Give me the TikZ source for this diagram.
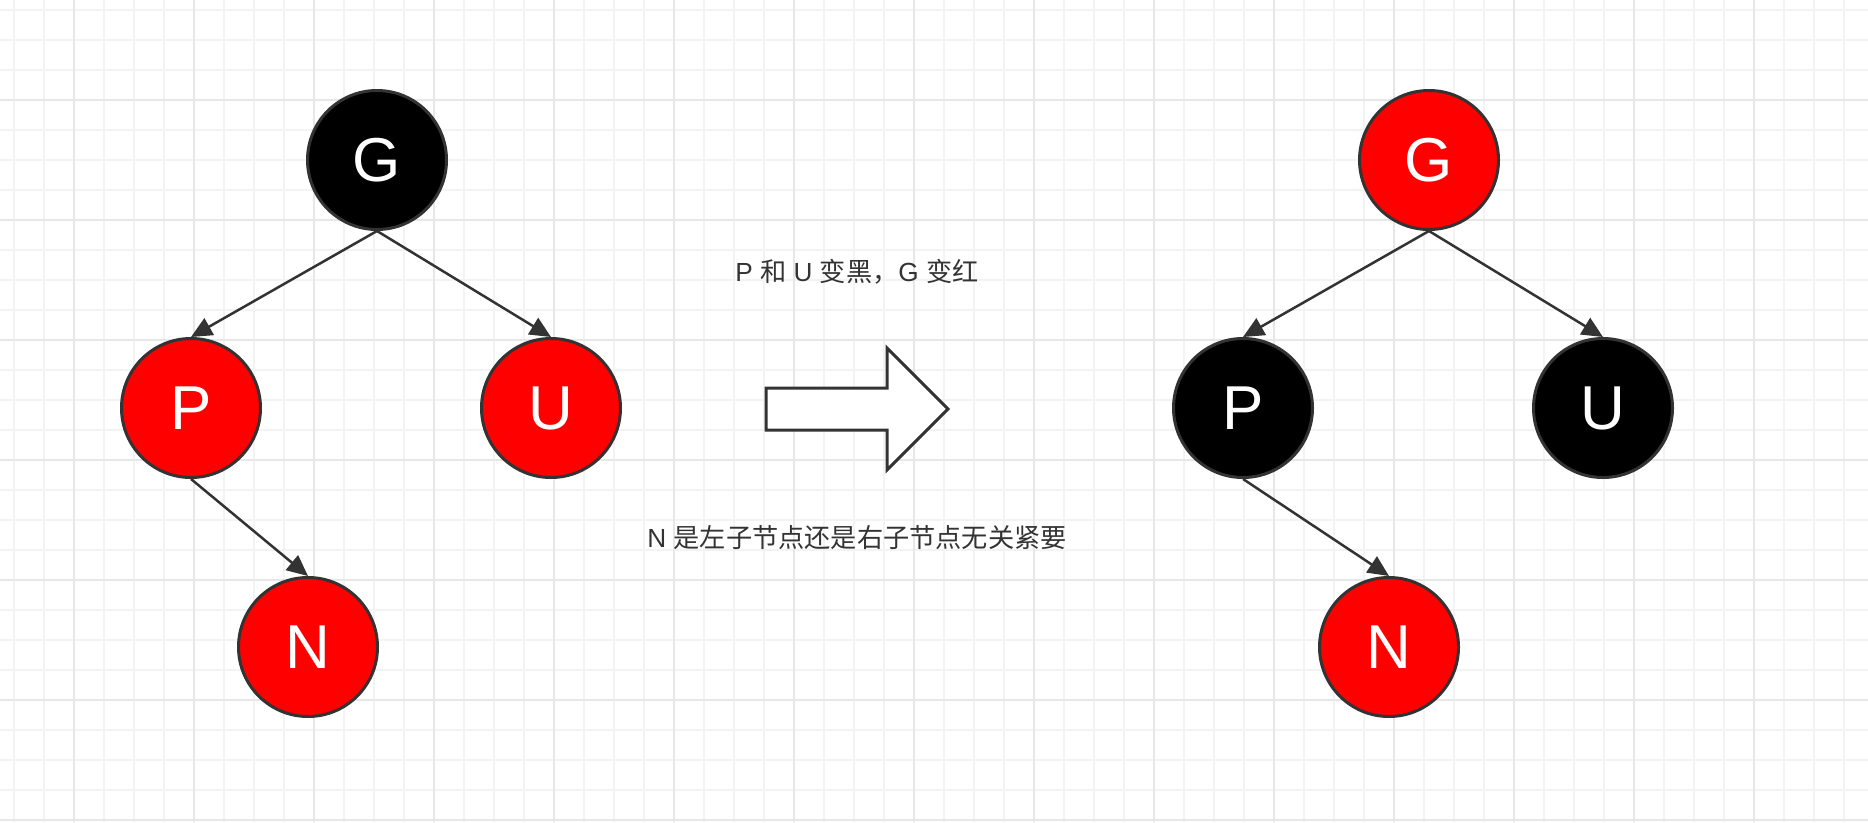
\documentclass[tikz,border=0pt]{standalone}
\usepackage{fontspec}
\setmainfont{Liberation Sans}
\newfontfamily\cjk{Noto Sans CJK SC}
\usetikzlibrary{arrows.meta}
\definecolor{linegray}{HTML}{333333}
\definecolor{nodered}{HTML}{FF0000}
\definecolor{gridminor}{HTML}{F3F3F3}
\definecolor{gridmajor}{HTML}{E7E7E7}

\begin{document}
\begin{tikzpicture}[x=1pt,y=-1pt,
    rbnode/.style={circle,draw=linegray,line width=3pt,minimum size=139pt,inner sep=0pt,text=white,font=\fontsize{62}{62}\selectfont},
    red node/.style={rbnode,fill=nodered},
    black node/.style={rbnode,fill=black},
    link/.style={draw=linegray,line width=2.5pt,-{Triangle[length=21pt,width=19pt]}},
    note/.style={text=linegray,inner sep=0pt,font=\fontsize{26.2}{30}\selectfont}]

    \fill[white] (0,0) rectangle (1868,822);
    \useasboundingbox (0,0) rectangle (1868,822);

    % grid
    \foreach \gx in {14,44,...,1864}
        \draw[gridminor,line width=1.5pt] (\gx,0) -- (\gx,822);
    \foreach \gy in {10,40,...,820}
        \draw[gridminor,line width=1.5pt] (0,\gy) -- (1868,\gy);
    \foreach \gx in {74,194,...,1754}
        \draw[gridmajor,line width=1.5pt] (\gx,0) -- (\gx,822);
    \foreach \gy in {100,220,...,820}
        \draw[gridmajor,line width=1.5pt] (0,\gy) -- (1868,\gy);

    % before
    \node[black node] (g1) at (377,160) {G};
    \node[red node]   (p1) at (191,408) {P};
    \node[red node]   (u1) at (551,408) {U};
    \node[red node]   (n1) at (308,647) {N};
    \draw[link] (g1.south) -- (p1.north);
    \draw[link] (g1.south) -- (u1.north);
    \draw[link] (p1.south) -- (n1.north);

    % after
    \node[red node]   (g2) at (1429,160) {G};
    \node[black node] (p2) at (1243,408) {P};
    \node[black node] (u2) at (1603,408) {U};
    \node[red node]   (n2) at (1389,647) {N};
    \draw[link] (g2.south) -- (p2.north);
    \draw[link] (g2.south) -- (u2.north);
    \draw[link] (p2.south) -- (n2.north);

    \draw[linegray,fill=white,line width=3pt,line join=miter]
            (766,388) -- (887,388) -- (887,348)
         -- (948,409) -- (887,470) -- (887,430)
         -- (766,430) -- cycle;

    \node[note] (rule) at (857,272) {P {\cjk 和} U {\cjk 变黑，}G {\cjk 变红}};
    \node[note] (side) at (857,538) {N {\cjk 是左子节点还是右子节点无关紧要}};
\end{tikzpicture}
\end{document}
